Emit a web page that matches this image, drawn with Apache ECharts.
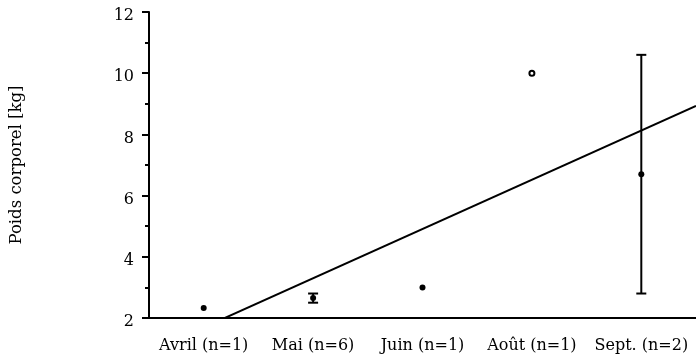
<!DOCTYPE html>
<html>
<head>
<meta charset="utf-8">
<script src="https://cdn.jsdelivr.net/npm/echarts@6/dist/echarts.min.js"></script>
<style>
html,body{margin:0;padding:0;background:#fff;}
#chart{width:696px;height:363px;}
</style>
</head>
<body>
<div id="chart"></div>
<script>
const months = ['Avril (n=1)', 'Mai (n=6)', 'Juin (n=1)', 'Août (n=1)', 'Sept. (n=2)'];
const means = [2.33, 2.65, 3.0, 10.0, 6.7];
const errLow = [null, 2.5, null, null, 2.8];
const errHigh = [null, 2.8, null, null, 10.6];
const openMarker = [false, false, false, true, false];
const yTicks = [2, 4, 6, 8, 10, 12];
const regIntercept = 1.69;
const regSlope = 1.61;

const font = 'DejaVu Serif, Liberation Serif, serif';
const chart = echarts.init(document.getElementById('chart'), null, {renderer: 'canvas'});

const scatterData = means.map((v, i) => ({
  value: [i, v],
  symbol: openMarker[i] ? 'emptyCircle' : 'circle',
  symbolSize: openMarker[i] ? 5 : 6,
  itemStyle: openMarker[i] ? {color: '#000', borderColor: '#000', borderWidth: 1.5, opacity: 1} : {color: '#000', opacity: 1}
}));
const errData = [];
means.forEach((v, i) => { if (errLow[i] != null) errData.push([i, errLow[i], errHigh[i]]); });
const xMin = -0.5, xMax = months.length - 0.5;
const regData = [[xMin, regIntercept + regSlope * xMin], [xMax, regIntercept + regSlope * xMax]];

chart.setOption({
  animation: false,
  backgroundColor: '#fff',
  grid: {left: 148, top: 12, width: 550, bottom: 45, containLabel: false},
  xAxis: [{
    type: 'category',
    data: months,
    boundaryGap: true,
    axisLine: {lineStyle: {color: '#000', width: 2}},
    axisTick: {alignWithLabel: true, length: 7, lineStyle: {color: '#000', width: 2}},
    axisLabel: {color: '#000', fontFamily: font, fontSize: 16, margin: 20, interval: 0, hideOverlap: false},
    splitLine: {show: false}
  }, {
    type: 'value', min: xMin, max: xMax, show: false
  }],
  yAxis: {
    type: 'value',
    min: yTicks[0], max: yTicks[yTicks.length - 1], interval: 2,
    name: 'Poids corporel [kg]',
    nameLocation: 'middle',
    nameGap: 124,
    nameTextStyle: {color: '#000', fontFamily: font, fontSize: 16.5},
    axisLine: {show: true, onZero: false, lineStyle: {color: '#000', width: 2}},
    axisTick: {show: true, length: 7, lineStyle: {color: '#000', width: 2}},
    minorTick: {show: true, splitNumber: 2, length: 4, lineStyle: {color: '#000', width: 2}},
    axisLabel: {
      color: '#000', fontFamily: font, fontSize: 16, margin: 15,
      formatter: v => '{a|' + v + '}',
      rich: {a: {color: '#000', fontFamily: font, fontSize: 16, padding: [8, 0, 0, 0]}}
    },
    splitLine: {show: false}
  },
  series: [{
    type: 'line',
    xAxisIndex: 1,
    data: regData,
    symbol: 'none',
    clip: true,
    lineStyle: {color: '#000', width: 2},
    z: 2
  }, {
    type: 'custom',
    xAxisIndex: 0,
    data: errData,
    renderItem: function (params, api) {
      const x = api.coord([api.value(0), api.value(1)])[0];
      const lo = api.coord([api.value(0), api.value(1)])[1];
      const hi = api.coord([api.value(0), api.value(2)])[1];
      const cap = 5;
      const style = {stroke: '#000', lineWidth: 2};
      return {type: 'group', children: [
        {type: 'line', shape: {x1: x, y1: hi, x2: x, y2: lo}, style: style},
        {type: 'line', shape: {x1: x - cap, y1: hi, x2: x + cap, y2: hi}, style: style},
        {type: 'line', shape: {x1: x - cap, y1: lo, x2: x + cap, y2: lo}, style: style}
      ]};
    },
    z: 3
  }, {
    type: 'scatter',
    xAxisIndex: 0,
    data: scatterData,
    z: 4
  }]
});
</script>
</body>
</html>
